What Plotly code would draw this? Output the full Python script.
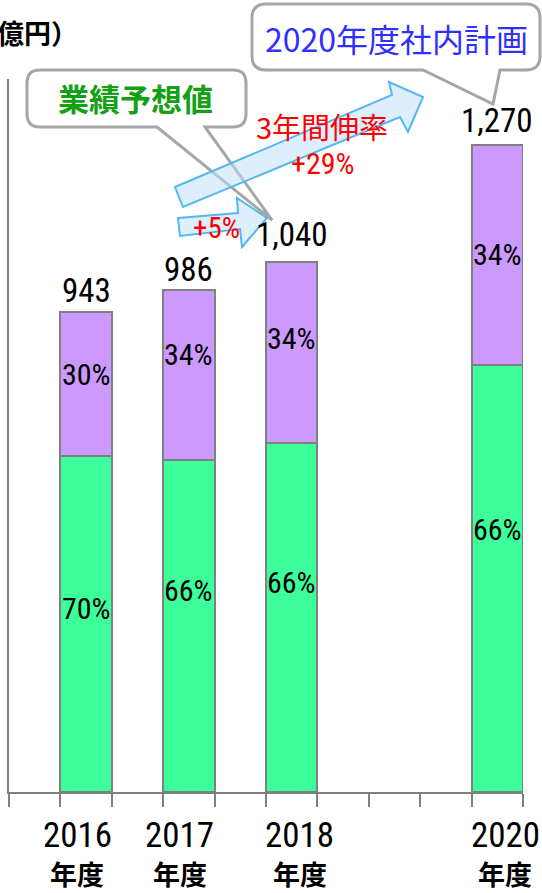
import plotly.graph_objects as go

# ---------------- data ----------------
years = ["2016", "2017", "2018", "2020"]
totals = [943, 986, 1040, 1270]
total_labels = ["943", "986", "1,040", "1,270"]
green_vals = [660, 651, 686, 838]
purple_vals = [283, 335, 354, 432]
green_pct = ["70%", "66%", "66%", "66%"]
purple_pct = ["30%", "34%", "34%", "34%"]
unit_label = "（億円）"
year_suffix = "年度"

# ---------------- styling / layout helpers ----------------
W, H = 542, 893
ML, MR, MT, MB = 9, 19, 79, 101
PW, PH = W - ML - MR, H - MT - MB
GREEN = "#3CFF9C"
PURPLE = "#CC99FF"
GRAY = "#808080"
NARROW = "Liberation Sans Narrow, Arial Narrow, Roboto Condensed, DejaVu Sans Condensed, sans-serif"
CJK = "Noto Sans CJK JP, sans-serif"

# per-label pixel offsets (layout only)
total_shift = [21, 20, 28, 25]
purple_shift = [9, 21, 14, 1]
green_shift = [15, 36, 35, 49]
xlab_shift = [-9, -9, 8, 8]

xpos = [int(y) - 2016 for y in years]


def fx(p):
    return (p - ML) / PW


def fy(p):
    return (MT + PH - p) / PH


fig = go.Figure()
fig.add_trace(go.Bar(x=xpos, y=green_vals, width=0.5,
                     marker=dict(color=GREEN, line=dict(color=GRAY, width=2)),
                     hoverinfo="skip"))
fig.add_trace(go.Bar(x=xpos, y=purple_vals, width=0.5,
                     marker=dict(color=PURPLE, line=dict(color=GRAY, width=2)),
                     hoverinfo="skip"))

annotations = []
for i, x in enumerate(xpos):
    annotations.append(dict(x=x, y=totals[i], xref="x", yref="y", text=total_labels[i],
                            showarrow=False, xanchor="center", yanchor="middle", yshift=total_shift[i],
                            font=dict(family=NARROW, size=33, color="black")))
    annotations.append(dict(x=x, y=green_vals[i] + purple_vals[i] / 2, xref="x", yref="y",
                            text=purple_pct[i], showarrow=False, xanchor="center", yanchor="middle",
                            yshift=purple_shift[i],
                            font=dict(family=NARROW, size=30, color="black")))
    annotations.append(dict(x=x, y=green_vals[i] / 2, xref="x", yref="y",
                            text=green_pct[i], showarrow=False, xanchor="center", yanchor="middle",
                            yshift=green_shift[i],
                            font=dict(family=NARROW, size=30, color="black")))
    annotations.append(dict(x=x, y=0, xref="x", yref="paper", text=years[i],
                            showarrow=False, xanchor="center", yanchor="middle", yshift=-43,
                            xshift=xlab_shift[i],
                            font=dict(family=NARROW, size=35, color="black")))
    annotations.append(dict(x=x, y=0, xref="x", yref="paper", text="<b>" + year_suffix + "</b>",
                            showarrow=False, xanchor="center", yanchor="middle", yshift=-81,
                            xshift=xlab_shift[i],
                            font=dict(family=CJK, size=27, color="black")))

# unit label (partially off-canvas at left)
annotations.append(dict(x=fx(80), y=fy(32), xref="paper", yref="paper", text="<b>" + unit_label + "</b>",
                        showarrow=False, xanchor="right", yanchor="middle",
                        font=dict(family=CJK, size=27, color="black")))


def callout(x0, y0, x1, y1, r, t1, t2, tip):
    def P(a, b):
        return f"{fx(a):.5f},{fy(b):.5f}"
    d = (f"M{P(x0 + r, y0)} L{P(x1 - r, y0)} Q{P(x1, y0)} {P(x1, y0 + r)} "
         f"L{P(x1, y1 - r)} Q{P(x1, y1)} {P(x1 - r, y1)} L{P(t2, y1)} L{P(tip[0], tip[1])} "
         f"L{P(t1, y1)} L{P(x0 + r, y1)} Q{P(x0, y1)} {P(x0, y1 - r)} L{P(x0, y0 + r)} "
         f"Q{P(x0, y0)} {P(x0 + r, y0)} Z")
    return dict(type="path", path=d, xref="paper", yref="paper",
                fillcolor="white", line=dict(color="#A6A6A6", width=3), layer="above")


def poly(points, fill, line):
    d = "M" + " L".join(f"{fx(a):.5f},{fy(b):.5f}" for a, b in points) + " Z"
    return dict(type="path", path=d, xref="paper", yref="paper",
                fillcolor=fill, line=dict(color=line, width=2), layer="above")


shapes = [
    callout(27, 70, 246, 127, 13, 157, 205, (272, 220)),
    callout(252, 4, 540, 70, 14, 423, 500, (493, 104)),
    poly([(175, 187), (392, 95), (389, 82), (423, 97), (408, 132), (400, 117), (183, 207)],
         "rgba(187,223,251,0.5)", "#55B6F0"),
    poly([(178, 218), (238, 213), (237, 198), (267, 218), (242, 247), (240, 229), (180, 236)],
         "rgba(187,223,251,0.5)", "#55B6F0"),
]


def txt(px, py, text, family, size, color):
    return dict(x=fx(px), y=fy(py), xref="paper", yref="paper", text=text, showarrow=False,
                xanchor="center", yanchor="middle", font=dict(family=family, size=size, color=color))


annotations += [
    txt(135, 98, "<b>業績予想値</b>", CJK, 31, "#14A014"),
    txt(396, 38, "2020年度社内計画", CJK, 32, "#2F2FFF"),
    txt(322, 126, "3年間伸率", CJK, 29, "#FF0000"),
    txt(323, 163, "+29%", NARROW, 30, "#FF0000"),
    txt(216, 228, "+5%", NARROW, 29, "#FF0000"),
]

edge_ticks = [-0.75 + 0.5 * k for k in range(11)]

fig.update_layout(
    width=W, height=H, barmode="stack", showlegend=False,
    margin=dict(l=ML, r=MR, t=MT, b=MB, pad=0),
    paper_bgcolor="white", plot_bgcolor="white",
    xaxis=dict(range=[-0.75, 4.25], tickvals=edge_ticks, ticks="outside", ticklen=13,
               tickwidth=2, tickcolor=GRAY, showticklabels=False, showline=True,
               linecolor=GRAY, linewidth=2, showgrid=False, zeroline=False, fixedrange=True),
    yaxis=dict(range=[0, 1400], showline=True, linecolor=GRAY, linewidth=2, showticklabels=False,
               ticks="", showgrid=False, zeroline=False, fixedrange=True),
    annotations=annotations, shapes=shapes,
)

fig.write_html("out.html", config={"displayModeBar": False})
